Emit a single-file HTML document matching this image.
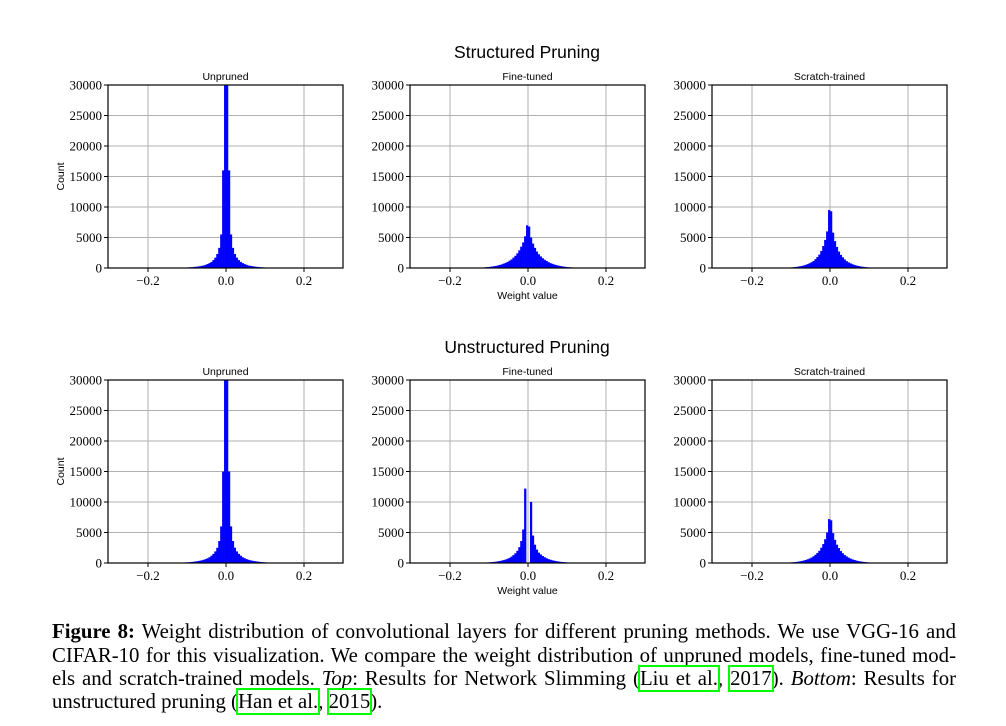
<!DOCTYPE html>
<html><head><meta charset="utf-8"><style>
body{margin:0;background:#fff;width:1006px;height:726px;overflow:hidden;position:relative}
svg{position:absolute;left:0;top:0}
.cap{position:absolute;left:52px;width:904px;font-family:"Liberation Serif",serif;font-size:20.8px;color:#000;white-space:nowrap;line-height:23px}
.j{text-align:justify;text-align-last:justify}
.cite{outline:2px solid #00ff00;outline-offset:0}
</style></head><body>
<svg id="fig" width="1006" height="726"></svg>
<div class="cap j" style="top:620px"><b>Figure 8:</b> Weight distribution of convolutional layers for different pruning methods. We use VGG-16 and</div>
<div class="cap j" style="top:644px">CIFAR-10 for this visualization. We compare the weight distribution of unpruned models, fine-tuned mod-</div>
<div class="cap j" style="top:667px">els and scratch-trained models. <i>Top</i>: Results for Network Slimming (<span class="cite">Liu et al.</span>, <span class="cite">2017</span>). <i>Bottom</i>: Results for</div>
<div class="cap" style="top:690px">unstructured pruning (<span class="cite">Han et al.</span>, <span class="cite">2015</span>).</div>
<script>
// bins of width 0.005; halves listed from 0 outward
const binWidth = 0.005;
const xTicks = [-0.2, 0.0, 0.2];
const xTickLabels = ["\u22120.2", "0.0", "0.2"];
const yTicks = [0, 5000, 10000, 15000, 20000, 25000, 30000];
const yTickLabels = ["0","5000","10000","15000","20000","25000","30000"];
const panelTitles = ["Unpruned","Fine-tuned","Scratch-trained"];
const rowTitles = ["Structured Pruning","Unstructured Pruning"];
const sUnprunedNeg = [32000,16000,5500,3300,2300,1700,1300,1000,800,650,520,420,350,290,240,200,170,140,120,100,80,60,50,40,30,20,15,10,8,5];
const sUnprunedPos = [32000,16000,5500,3300,2300,1700,1300,1000,800,650,520,420,350,290,240,200,170,140,120,100,80,60,50,40,30,20,15,10,8,5];
const sFineNeg = [7000,5200,4200,3500,2900,2400,2000,1700,1400,1200,1000,850,720,600,500,420,350,290,240,200,160,130,100,80,60,45,35,25,15,10];
const sFinePos = [6800,5000,4000,3300,2700,2250,1900,1600,1350,1150,950,800,680,570,480,400,330,270,220,180,150,120,95,75,55,42,32,22,14,9];
const sScratchNeg = [9500,6000,4600,3600,2800,2200,1800,1450,1150,950,780,640,520,420,340,280,220,180,140,110,85,65,50,38,28,20,14,10,6,4];
const sScratchPos = [9300,5800,4400,3450,2700,2150,1750,1400,1120,920,760,620,500,410,330,270,215,175,135,105,80,62,48,36,26,19,13,9,6,4];
const uUnprunedNeg = [32000,15000,6000,3600,2500,1900,1500,1200,950,780,640,530,440,370,310,260,220,180,150,120,100,80,60,45,35,25,18,12,8,5];
const uUnprunedPos = [32000,15000,6000,3600,2500,1900,1500,1200,950,780,640,530,440,370,310,260,220,180,150,120,100,80,60,45,35,25,18,12,8,5];
const uFineNeg = [0,12200,5500,3600,2600,2000,1600,1300,1050,850,700,580,480,400,330,270,220,180,150,120,100,80,65,50,40,30,20,15,10,5];
const uFinePos = [0,10000,4500,3000,2200,1700,1400,1150,950,780,640,530,440,370,300,250,200,165,135,110,90,70,55,45,35,25,18,12,8,5];
const uScratchNeg = [7200,5000,3900,3100,2500,2000,1650,1350,1100,900,740,610,500,410,330,270,220,175,140,110,85,65,50,38,28,20,14,10,6,4];
const uScratchPos = [7000,4900,3800,3000,2450,1950,1600,1300,1080,880,720,590,490,400,320,260,210,170,135,105,82,62,48,36,26,19,13,9,6,4];
const panelsData = [[sUnprunedNeg,sUnprunedPos],[sFineNeg,sFinePos],[sScratchNeg,sScratchPos],[uUnprunedNeg,uUnprunedPos],[uFineNeg,uFinePos],[uScratchNeg,uScratchPos]];

const NS="http://www.w3.org/2000/svg";
const svg=document.getElementById('fig');
function mk(tag,attrs,parent){const e=document.createElementNS(NS,tag);for(const k in attrs)e.setAttribute(k,attrs[k]);(parent||svg).appendChild(e);return e;}
const colX=[108,410,712], rowY=[85,380], W=235, H=183;
const xMin=-0.3026, xMax=0.3, yMax=30000;
rowTitles.forEach((t,r)=>{
  const e=mk('text',{x:527,y:rowY[r]-27,'text-anchor':'middle','font-family':'Liberation Sans, sans-serif','font-size':'17.5'});
  
  
  e.textContent=t;
});
for(let r=0;r<2;r++)for(let c=0;c<3;c++){
  const x0=colX[c], y0=rowY[r];
  const sx=v=>x0+(v-xMin)/(xMax-xMin)*W;
  const sy=v=>y0+H-v/yMax*H;
  const g=mk('g',{});
  
  
  const clipId='clip'+r+c;
  const cp=mk('clipPath',{id:clipId},g); mk('rect',{x:x0,y:y0,width:W,height:H},cp);
  yTicks.forEach((v,i)=>{
    mk('line',{x1:x0,x2:x0+W,y1:sy(v),y2:sy(v),stroke:'#b0b0b0','stroke-width':1},g);
    mk('line',{x1:x0-4,x2:x0,y1:sy(v),y2:sy(v),stroke:'#000','stroke-width':1},g);
    const t=mk('text',{x:x0-6,y:sy(v)+4.5,'text-anchor':'end','font-family':'Liberation Serif, serif','font-size':'13'},g);
    
    
    t.textContent=yTickLabels[i];
  });
  xTicks.forEach((v,i)=>{
    mk('line',{x1:sx(v),x2:sx(v),y1:y0,y2:y0+H,stroke:'#b0b0b0','stroke-width':1},g);
    mk('line',{x1:sx(v),x2:sx(v),y1:y0+H,y2:y0+H+4,stroke:'#000','stroke-width':1},g);
    const t=mk('text',{x:sx(v),y:y0+H+17,'text-anchor':'middle','font-family':'Liberation Serif, serif','font-size':'13'},g);
    
    
    t.textContent=xTickLabels[i];
  });
  const [neg,pos]=panelsData[r*3+c];
  const bars=mk('g',{'clip-path':'url(#'+clipId+')'},g);
  const drawBar=(left,v)=>{
    if(v<=0)return;
    const b=mk('rect',{x:sx(left),y:sy(v),width:sx(left+binWidth)-sx(left)+0.3,height:sy(0)-sy(v),fill:'#0000ff'},bars);
    
    
  };
  neg.forEach((v,i)=>drawBar(-(i+1)*binWidth,v));
  pos.forEach((v,i)=>drawBar(i*binWidth,v));
  mk('rect',{x:x0,y:y0,width:W,height:H,fill:'none',stroke:'#000','stroke-width':1.2},g);
  const st=mk('text',{x:x0+W/2,y:y0-5,'text-anchor':'middle','font-family':'Liberation Sans, sans-serif','font-size':'10.5'},g);
  
  
  st.textContent=panelTitles[c];
  if(c===0){
    const yl=mk('text',{x:0,y:0,'text-anchor':'middle','font-family':'Liberation Sans, sans-serif','font-size':'10.5',transform:`translate(64,${y0+H/2}) rotate(-90)`},g);
    
    
    yl.textContent='Count';
  }
  if(c===1){
    const xl=mk('text',{x:x0+W/2,y:y0+H+31,'text-anchor':'middle','font-family':'Liberation Sans, sans-serif','font-size':'10.5'},g);
    
    
    xl.textContent='Weight value';
  }
}
</script>
</body></html>
